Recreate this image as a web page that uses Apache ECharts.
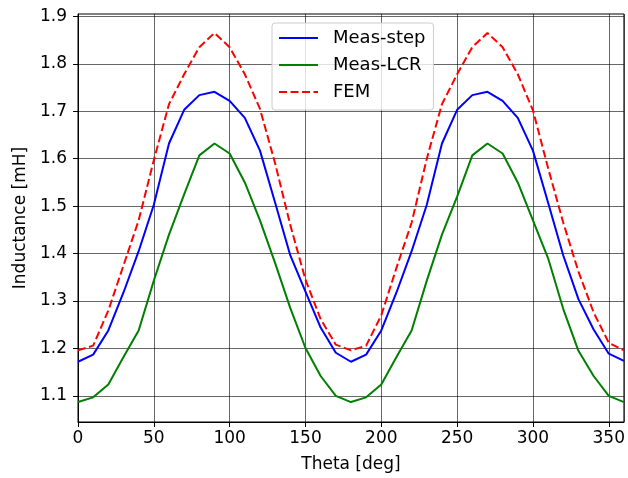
<!DOCTYPE html>
<html>
<head>
<meta charset="utf-8">
<script src="https://cdn.jsdelivr.net/npm/echarts@6/dist/echarts.min.js"></script>
<style>html,body{margin:0;padding:0;background:#fff;}#c{width:628px;height:478px;}</style>
</head>
<body>
<div id="c"></div>
<script>
const theta = [0,10,20,30,40,50,60,70,80,90,100,110,120,130,140,150,160,170,180,190,200,210,220,230,240,250,260,270,280,290,300,310,320,330,340,350,360];
const measStep = [1.172,1.187,1.238,1.318,1.405,1.503,1.632,1.703,1.734,1.741,1.722,1.686,1.617,1.507,1.396,1.320,1.244,1.191,1.172,1.187,1.238,1.318,1.405,1.503,1.632,1.703,1.734,1.741,1.722,1.686,1.617,1.507,1.396,1.304,1.240,1.189,1.174];
const measLCR = [1.087,1.097,1.124,1.182,1.238,1.343,1.440,1.525,1.607,1.632,1.611,1.550,1.470,1.380,1.285,1.201,1.142,1.100,1.087,1.097,1.124,1.182,1.238,1.343,1.440,1.520,1.607,1.632,1.611,1.550,1.470,1.390,1.283,1.195,1.142,1.100,1.087];
const fem = [1.196,1.206,1.280,1.375,1.470,1.597,1.715,1.778,1.835,1.865,1.835,1.778,1.705,1.590,1.460,1.345,1.262,1.208,1.196,1.206,1.270,1.370,1.465,1.600,1.715,1.778,1.835,1.865,1.835,1.778,1.702,1.580,1.465,1.362,1.276,1.212,1.196];
const yTicks = [1.1,1.2,1.3,1.4,1.5,1.6,1.7,1.8,1.9];
const seriesNames = ['Meas-step','Meas-LCR','FEM'];

const font = 'DejaVu Sans';
const chart = echarts.init(document.getElementById('c'), null, {renderer:'canvas'});
const pair = arr => theta.map((t,i)=>[t,arr[i]]);
chart.setOption({
  animation:false,
  backgroundColor:'#fff',
  grid:{left:78,right:1,top:14,bottom:56,show:true,borderColor:'#000',borderWidth:1,backgroundColor:'transparent'},
  legend:{
    orient:'vertical',left:272,top:23,
    padding:[5,8,8,6],itemGap:7,itemWidth:39,itemHeight:14,
    backgroundColor:'rgba(255,255,255,0.8)',borderColor:'#ccc',borderWidth:1,borderRadius:3,
    itemStyle:{opacity:0},
    textStyle:{fontFamily:font,fontSize:18,color:'#000',lineHeight:20,padding:[0,0,0,10]},
    data:seriesNames
  },
  xAxis:{
    type:'value',min:0,max:360,interval:50,
    name:'Theta [deg]',nameLocation:'middle',nameGap:34,
    nameTextStyle:{fontFamily:font,fontSize:17,color:'#000'},
    axisLine:{show:true,lineStyle:{color:'#000',width:1}},
    axisTick:{show:true,length:5,lineStyle:{color:'#000'}},
    axisLabel:{fontFamily:font,fontSize:17,color:'#000',margin:8},
    splitLine:{show:true,lineStyle:{color:'#000',width:0.8,opacity:0.75}}
  },
  yAxis:{
    type:'value',min:1.045,max:1.905,
    name:'Inductance [mH]',nameLocation:'middle',nameGap:49,
    nameTextStyle:{fontFamily:font,fontSize:17,color:'#000'},
    axisLine:{show:true,lineStyle:{color:'#000',width:1}},
    axisTick:{show:true,length:5,lineStyle:{color:'#000'},customValues:yTicks},
    axisLabel:{fontFamily:font,fontSize:17,color:'#000',margin:11,customValues:yTicks,formatter:v=>v.toFixed(1)},
    splitLine:{show:true,lineStyle:{color:'#000',width:0.8,opacity:0.75}}
  },
  series:[
    {name:seriesNames[0],type:'line',data:pair(measStep),symbol:'none',lineStyle:{color:'#0000ff',width:2},itemStyle:{color:'#0000ff'}},
    {name:seriesNames[1],type:'line',data:pair(measLCR),symbol:'none',lineStyle:{color:'#008000',width:2},itemStyle:{color:'#008000'}},
    {name:seriesNames[2],type:'line',data:pair(fem),symbol:'none',lineStyle:{color:'#ff0000',width:2,type:[8,3.5]},itemStyle:{color:'#ff0000'}}
  ]
});
</script>
</body>
</html>
